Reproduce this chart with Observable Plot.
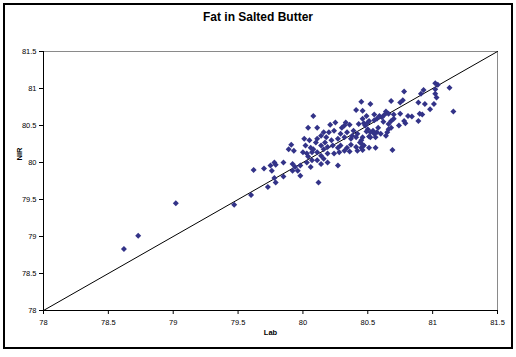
<!DOCTYPE html>
<html><head><meta charset="utf-8">
<script src="https://cdn.jsdelivr.net/npm/d3@7"></script>
<script src="https://cdn.jsdelivr.net/npm/@observablehq/plot@0.6"></script>
<style>
body{margin:0;background:#fff;}
#wrap{position:relative;width:516px;height:357px;font-family:Arial,"Liberation Sans",sans-serif;}
#frame{position:absolute;left:3px;top:3px;width:506px;height:342px;border:2px solid #000;}
#title{position:absolute;left:0;width:516px;top:10px;text-align:center;font-weight:bold;font-size:12px;color:#000;}
#chart{position:absolute;left:0;top:30px;}
</style></head><body>
<div id="wrap"><div id="frame"></div><div id="title">Fat in Salted Butter</div><div id="chart"></div></div>
<script>
const title = "Fat in Salted Butter";
const xLabel = "Lab";
const yLabel = "NIR";
const tickValues = [78, 78.5, 79, 79.5, 80, 80.5, 81, 81.5];
const diagX = [78, 81.5];
const diagY = [78, 81.5];

const lab = [80.45,80.52,80.41,80.08,80.55,80.49,80.46,80.21,80.25,80.33,80.36,80.32,80.04,80.11,80.43,80.47,80.51,80.55,80.57,
80.16,80.20,80.24,80.29,80.34,80.39,80.42,80.54,80.57,80.14,80.18,80.11,80.01,80.05,80.10,80.27,80.32,80.37,80.41,80.45,80.52,80.56,
79.91,79.89,79.93,80.02,80.06,80.14,80.16,80.19,80.23,80.27,80.29,80.34,80.37,80.41,80.45,80.47,80.51,80.56,
80.00,80.03,80.07,80.11,80.14,80.19,80.24,80.28,80.32,80.36,80.42,80.46,
79.78,79.79,79.85,79.75,79.76,79.92,79.94,79.92,79.96,79.98,80.03,80.07,80.06,80.11,80.14,80.16,80.19,80.27,
79.62,79.70,79.85,79.78,79.79,79.98,79.73,80.12,
81.02,81.04,81.13,81.02,81.02,81.03,80.93,80.91,80.78,80.68,80.77,80.75,80.89,80.94,81.01,80.98,81.16,
80.64,80.66,80.70,80.75,80.81,80.84,80.90,80.92,80.59,80.61,80.63,80.46,80.68,80.66,80.70,80.78,80.89,80.79,
80.50,80.48,80.74,80.66,80.65,80.68,80.50,80.52,80.55,80.60,80.64,80.46,80.51,80.46,80.69,
80.30,80.38,80.44,80.22,80.08,80.17,80.49,80.62,80.58,80.04,
78.62,78.73,79.02,79.47,79.60];
const nir = [80.82,80.79,80.71,80.63,80.65,80.63,80.59,80.51,80.54,80.54,80.51,80.50,80.47,80.47,80.52,80.53,80.56,80.57,80.59,
80.41,80.41,80.43,80.39,80.41,80.43,80.39,80.43,80.41,80.36,80.34,80.32,80.32,80.30,80.27,80.32,80.34,80.32,80.34,80.30,80.34,80.34,
80.24,80.18,80.16,80.23,80.20,80.23,80.18,80.21,80.23,80.20,80.23,80.20,80.24,80.21,80.20,80.23,80.20,80.20,
80.14,80.12,80.14,80.14,80.09,80.12,80.12,80.14,80.16,80.15,80.16,80.17,
80.00,79.97,80.00,79.96,79.89,79.98,79.94,79.89,79.89,79.96,80.00,80.03,79.94,80.03,79.98,80.05,80.00,79.96,
79.90,79.92,79.81,79.79,79.73,79.82,79.67,79.73,
81.07,81.05,81.01,80.99,80.93,80.88,80.98,80.93,80.96,80.83,80.84,80.81,80.81,80.79,80.79,80.72,80.69,
80.69,80.66,80.65,80.66,80.63,80.62,80.66,80.65,80.63,80.61,80.65,80.70,80.56,80.52,80.59,80.56,80.56,80.53,
80.54,80.50,80.50,80.45,80.41,80.47,80.45,80.41,80.39,80.39,80.36,80.34,80.35,80.24,80.17,
80.47,80.36,80.27,80.30,80.18,80.27,80.42,80.55,80.47,80.08,
78.83,79.01,79.45,79.43,79.56];

const pts = lab.map((x, i) => ({x, y: nir[i]}));
const fontBase = "Arial, 'Liberation Sans', sans-serif";

const chart = Plot.plot({
  width: 516, height: 310,
  marginLeft: 43, marginRight: 19, marginTop: 21, marginBottom: 30,
  x: {domain: [78, 81.5]},
  y: {domain: [78, 81.5]},
  style: {fontFamily: fontBase, fontSize: "7.5px", background: "transparent", color: "#000", overflow: "visible"},
  marks: [
    Plot.frame({stroke: "#8a8a8a"}),
    Plot.line(diagX.map((v, i) => ({x: v, y: diagY[i]})), {x: "x", y: "y", stroke: "#000", strokeWidth: 1}),
    Plot.dot(pts, {x: "x", y: "y", symbol: "diamond2", r: 2.7, fill: "#333388", stroke: "none"}),
    Plot.ruleX([78], {stroke: "#000"}),
    Plot.ruleY([78], {stroke: "#000"}),
    Plot.axisX({ticks: tickValues, tickFormat: d => String(d), tickSize: 4, tickPadding: 5, label: null}),
    Plot.axisY({ticks: tickValues, tickFormat: d => String(d), tickSize: 4, tickPadding: 3, label: null}),
    Plot.text([xLabel], {frameAnchor: "bottom", dy: 24, fontWeight: "bold", fontSize: 7.5}),
    Plot.text([yLabel], {frameAnchor: "top-left", dx: -27, dy: 109, rotate: -90, fontWeight: "bold", fontSize: 7.5})
  ]
});
document.getElementById("chart").appendChild(chart);
</script>
</body></html>
